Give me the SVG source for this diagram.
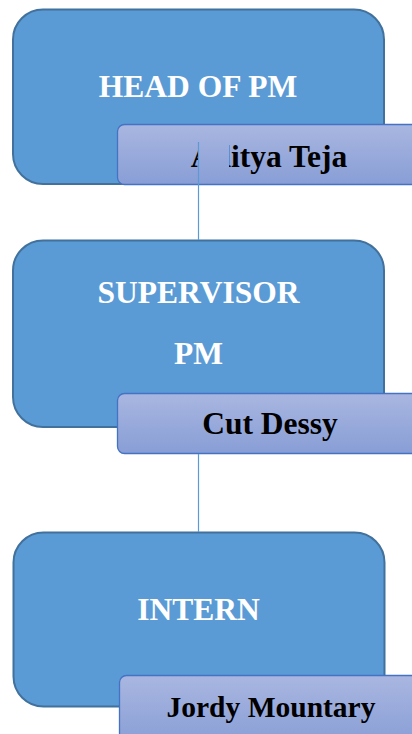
<svg xmlns="http://www.w3.org/2000/svg" width="412" height="734" viewBox="0 0 412 734">
<defs>
<linearGradient id="lg" x1="0" y1="0" x2="0" y2="1">
<stop offset="0" stop-color="#A9B6E0"/>
<stop offset="1" stop-color="#889ED6"/>
</linearGradient>
<clipPath id="hideD">
<rect x="0" y="120" width="198.5" height="70"/>
<rect x="229" y="120" width="200" height="70"/>
</clipPath>
<style>
.box{fill:#5B9BD5;stroke:#41719C;stroke-width:2}
.lab{fill:url(#lg);stroke:#4472C4;stroke-width:1.3}
.t1{font-family:"Liberation Serif","Times New Roman",serif;font-weight:bold;font-size:31.5px;fill:#FFFFFF;text-anchor:middle}
.t2{font-family:"Liberation Serif","Times New Roman",serif;font-weight:bold;font-size:31.5px;fill:#000000;text-anchor:middle}
.con{stroke:#5B9BD5;stroke-width:1.2;fill:none}
</style>
</defs>
<rect width="412" height="734" fill="#FFFFFF"/>
<g id="head">
<rect class="box" x="13" y="9.5" width="371" height="174.5" rx="30"/>
<text class="t1" x="198" y="97">HEAD OF PM</text>
</g>
<g id="head-name">
<rect class="lab" x="117.5" y="124.5" width="310" height="60" rx="7"/>
<text class="t2" x="269" y="167" clip-path="url(#hideD)">Aditya Teja</text>
</g>
<g id="supervisor">
<rect class="box" x="13" y="240.5" width="371" height="186.5" rx="30"/>
<text class="t1" x="198.5" y="303">SUPERVISOR</text>
<text class="t1" x="198.5" y="364">PM</text>
</g>
<g id="supervisor-name">
<rect class="lab" x="117.5" y="393.5" width="310" height="60" rx="7"/>
<text class="t2" x="270" y="434">Cut Dessy</text>
</g>
<g id="intern">
<rect class="box" x="13.5" y="532.5" width="371" height="174" rx="30"/>
<text class="t1" x="198.5" y="620">INTERN</text>
</g>
<g id="intern-name">
<rect class="lab" x="119.5" y="675.5" width="310" height="70" rx="7"/>
<text class="t2" x="271" y="717" style="font-size:29.5px">Jordy Mountary</text>
</g>
<g id="connectors">
<line class="con" x1="198.5" y1="142" x2="198.5" y2="240"/>
<line class="con" x1="198.5" y1="454" x2="198.5" y2="532"/>
</g>
</svg>
